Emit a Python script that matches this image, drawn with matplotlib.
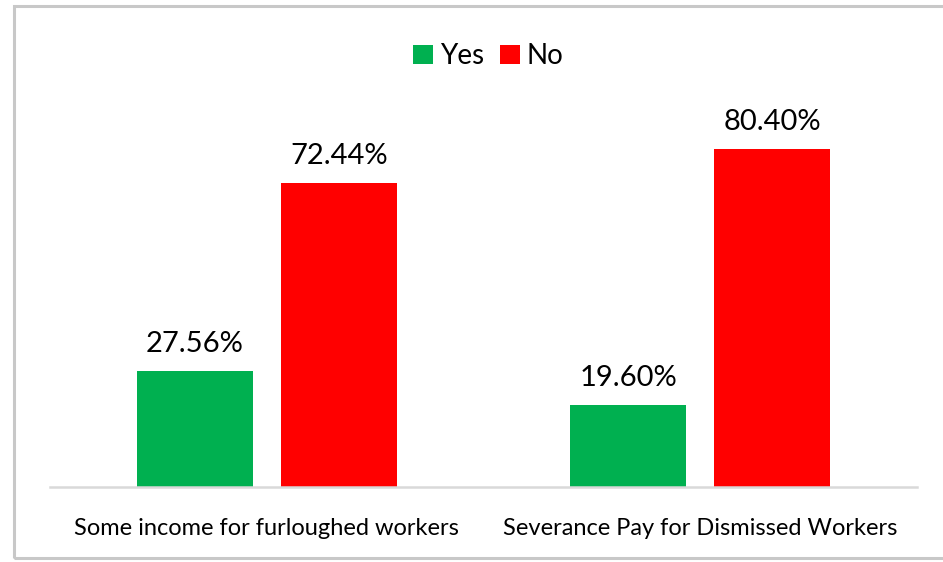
import numpy as np
import matplotlib.pyplot as plt
from matplotlib.patches import Rectangle

categories = ["Some income for furloughed workers", "Severance Pay for Dismissed Workers"]
yes_values = [27.56, 19.60]
no_values = [72.44, 80.40]
series_names = ["Yes", "No"]

green = "#00B050"
red = "#FF0000"
plt.rcParams['font.family'] = ['Lato', 'DejaVu Sans']

fig = plt.figure(figsize=(9.43, 5.62), dpi=100)
ax = fig.add_axes([0.053, 0.1335, 0.9194, 0.673])

# outer frame around the chart area (right side runs off the canvas)
fig.patches.append(Rectangle((14 / 943, 4 / 562), 960 / 943, 552 / 562,
                             transform=fig.transFigure, fill=False,
                             edgecolor="#C8C8C8", linewidth=2.2, zorder=0))

x = np.arange(len(categories))
w = 0.267
off = 0.166
b1 = ax.bar(x - off, yes_values, w, color=green, label=series_names[0])
b2 = ax.bar(x + off, no_values, w, color=red, label=series_names[1])

for bars, vals in ((b1, yes_values), (b2, no_values)):
    for rect, v in zip(bars, vals):
        ax.text(rect.get_x() + rect.get_width() / 2, v + 3.3, f"{v:.2f}%",
                ha="center", va="bottom", fontsize=21)

ax.set_xlim(-0.5, 1.5)
ax.set_ylim(0, 90)
ax.set_xticks(x)
ax.set_xticklabels(categories, fontsize=17)
ax.tick_params(axis="x", length=0, pad=22)
ax.set_yticks([])
for s in ("top", "right", "left"):
    ax.spines[s].set_visible(False)
ax.spines["bottom"].set_color("#D9D9D9")
ax.spines["bottom"].set_linewidth(1.8)

fig.legend(loc="center", bbox_to_anchor=(0.518, 0.9), ncol=2, frameon=False,
           fontsize=20, handlelength=0.7, handleheight=0.7, handletextpad=0.25,
           columnspacing=0.6)

fig.savefig("out.png", dpi=100)
